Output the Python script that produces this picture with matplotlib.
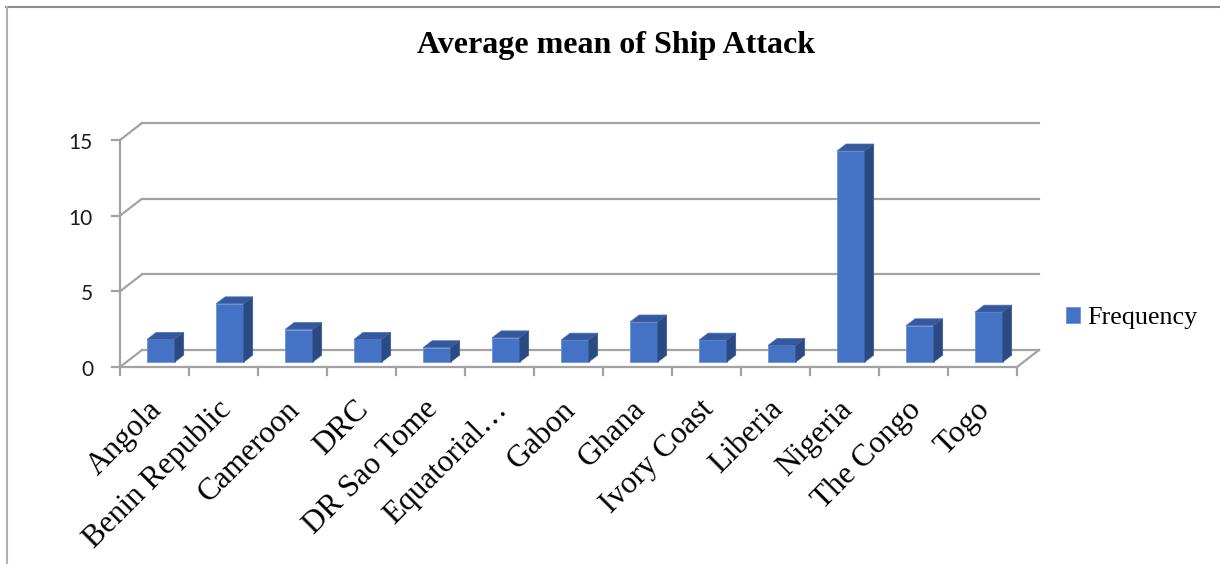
import matplotlib
matplotlib.use("Agg")
import matplotlib.pyplot as plt
from matplotlib.patches import Polygon
from matplotlib.lines import Line2D
import numpy as np

# data
countries = ['Angola', 'Benin Republic', 'Cameroon', 'DRC', 'DR Sao Tome',
             'Equatorial…', 'Gabon', 'Ghana', 'Ivory Coast', 'Liberia',
             'Nigeria', 'The Congo', 'Togo']
frequency = [1.5, 3.85, 2.15, 1.5, 0.95, 1.6, 1.45, 2.65, 1.45, 1.1, 13.95, 2.4, 3.3]
yticks = [0, 5, 10, 15]

W, H = 1220, 564
PX_CAT = 69.0      # pixels per category
PX_VAL = 15.133    # pixels per unit
X0, Y0 = 120, 367  # pixel position of the front origin

# depth of the fake 3d box (in data units)
DX = 22 / PX_CAT
DY = 17 / PX_VAL
d0, d1 = 0.29, 0.70  # front and back of the bars inside the depth
bar_w = 0.40

fig = plt.figure(figsize=(W / 100, H / 100), dpi=100)
ax = fig.add_axes([0, 0, 1, 1])
ax.set_xlim(-X0 / PX_CAT, (W - X0) / PX_CAT)
ax.set_ylim((Y0 - H) / PX_VAL, Y0 / PX_VAL)
ax.axis('off')

grid_c = '#a2a2a2'
n = len(countries)

# back wall gridlines + the diagonal connectors to the front axis
for v in yticks:
    ax.plot([0, DX], [v, v + DY], color=grid_c, lw=1.6, solid_capstyle='butt', zorder=1)
    ax.plot([DX, n + DX], [v + DY, v + DY], color=grid_c, lw=1.6, zorder=1)
    ax.plot([-8 / PX_CAT, 0], [v, v], color=grid_c, lw=1.6, zorder=1)

# front axis + floor
ax.plot([0, 0], [0, yticks[-1]], color=grid_c, lw=1.6, zorder=1)
ax.plot([0, n, n + DX], [0, 0, DY], color=grid_c, lw=1.6, zorder=1)
for i in range(n + 1):
    ax.plot([i, i], [0, -8 / PX_VAL], color=grid_c, lw=1.6, zorder=1)

# bars: front faces through ax.bar, then the top and side faces
xc = np.arange(n) + 0.5 + d0 * DX
base = d0 * DY
dd = d1 - d0
bars = ax.bar(xc, frequency, width=bar_w, bottom=base, color='#4472C4',
              edgecolor='#6f92d6', linewidth=0.6, zorder=3, label='Frequency')
for x, v in zip(xc, frequency):
    xl, xr = x - bar_w / 2, x + bar_w / 2
    top = base + v
    ax.add_patch(Polygon([(xl, top), (xr, top), (xr + dd * DX, top + dd * DY),
                          (xl + dd * DX, top + dd * DY)],
                         closed=True, facecolor='#36599d', edgecolor='#4a6fb5',
                         linewidth=0.5, zorder=3))
    ax.add_patch(Polygon([(xr, base), (xr, top), (xr + dd * DX, top + dd * DY),
                          (xr + dd * DX, base + dd * DY)],
                         closed=True, facecolor='#2b4a81', edgecolor='#3a5c9a',
                         linewidth=0.5, zorder=3))

# tick labels
for v in yticks:
    ax.text(-27 / PX_CAT, v - 0.2, str(v), ha='right', va='center',
            fontsize=15, family='Lato', color='#1a1a1a')
for i, c in enumerate(countries):
    ax.text(i + 0.5 - 7 / PX_CAT, -28 / PX_VAL, c, rotation=45, rotation_mode='anchor',
            ha='right', va='top', fontsize=22.5, family='Liberation Serif')

fig.text(616.5 / W, 1 - 46 / H, 'Average mean of Ship Attack', ha='center', va='center',
         fontsize=23, fontweight='bold', family='Liberation Serif')

fig.legend(handles=[bars], loc='center left', bbox_to_anchor=(1066 / W, 1 - 318 / H),
           frameon=False, prop={'family': 'Liberation Serif', 'size': 18.8},
           handlelength=0.55, handleheight=0.55, handletextpad=0.28, borderpad=0,
           borderaxespad=0)

# chart border
fig.add_artist(Line2D([6 / W, 1], [1 - 6.5 / H, 1 - 6.5 / H], color='#8c8c8c', lw=1.5))
fig.add_artist(Line2D([7 / W, 7 / W], [0, 1 - 6.5 / H], color='#b0b0b0', lw=1.5))

fig.savefig('out.png', dpi=100)
